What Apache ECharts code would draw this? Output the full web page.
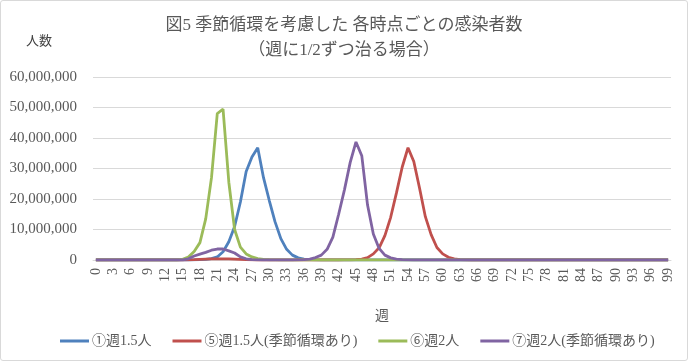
<!DOCTYPE html>
<html>
<head>
<meta charset="utf-8">
<script src="https://cdn.jsdelivr.net/npm/echarts@6/dist/echarts.min.js"></script>
<style>
html,body{margin:0;padding:0;background:#fff;}
#wrap{width:688px;height:361px;box-sizing:border-box;border:1px solid #d9d9d9;border-radius:3px;position:relative;overflow:hidden;}
#chart{position:absolute;left:-1px;top:-1px;width:688px;height:361px;}
</style>
</head>
<body>
<div id="wrap"><div id="chart"></div></div>
<script>
// categories: weeks 0..99
const weeks = [];
for (let w = 0; w <= 99; w++) weeks.push(String(w));

const titleText = "図5 季節循環を考慮した 各時点ごとの感染者数\n（週に1/2ずつ治る場合）";
const yUnitLabel = "人数";
const xName = "週";
const seriesNames = ["①週1.5人", "⑤週1.5人(季節循環あり)", "⑥週2人", "⑦週2人(季節循環あり)"];

// ①週1.5人
const s1 = [
0,0,0,0,0,0,0,0,0,0,
0,0,0,0,0,0,0,50000,100000,200000,
450000,1000000,2700000,6000000,11000000,19000000,29000000,33800000,36800000,27000000,
19500000,12500000,7000000,3500000,1600000,700000,300000,100000,40000,0,
0,0,0,0,0,0,0,0,0,0,
0,0,0,0,0,0,0,0,0,0,
0,0,0,0,0,0,0,0,0,0,
0,0,0,0,0,0,0,0,0,0,
0,0,0,0,0,0,0,0,0,0,
0,0,0,0,0,0,0,0,0,0
];
// ⑤週1.5人(季節循環あり)
const s5 = [
0,0,0,0,0,0,0,0,0,0,
0,0,0,0,0,0,50000,100000,200000,300000,
350000,400000,400000,350000,300000,200000,100000,50000,0,0,
0,0,0,0,0,0,0,0,0,0,
0,0,0,20000,50000,100000,300000,800000,2000000,4000000,
8000000,14000000,22000000,30500000,36800000,32300000,23500000,14200000,8300000,4100000,
2000000,900000,400000,150000,50000,0,0,0,0,0,
0,0,0,0,0,0,0,0,0,0,
0,0,0,0,0,0,0,0,0,0,
0,0,0,0,0,0,0,0,0,0
];
// ⑥週2人
const s6 = [
0,0,0,0,0,0,0,0,0,0,
0,0,0,0,0,200000,1000000,2800000,5700000,13500000,
27000000,48000000,49500000,25500000,10000000,4200000,2000000,1000000,450000,200000,
80000,30000,0,0,0,0,0,0,0,0,
0,0,0,0,0,0,0,0,0,0,
0,0,0,0,0,0,0,0,0,0,
0,0,0,0,0,0,0,0,0,0,
0,0,0,0,0,0,0,0,0,0,
0,0,0,0,0,0,0,0,0,0,
0,0,0,0,0,0,0,0,0,0
];
// ⑦週2人(季節循環あり)
const s7 = [
0,0,0,0,0,0,0,0,0,0,
0,0,0,0,0,50000,400000,1300000,1900000,2500000,
3200000,3600000,3600000,3000000,2300000,1000000,400000,150000,50000,0,
0,0,0,0,0,30000,100000,300000,800000,1600000,
3500000,7500000,15000000,23000000,32000000,38700000,34200000,18000000,8500000,3800000,
1600000,700000,300000,100000,30000,0,0,0,0,0,
0,0,0,0,0,0,0,0,0,0,
0,0,0,0,0,0,0,0,0,0,
0,0,0,0,0,0,0,0,0,0,
0,0,0,0,0,0,0,0,0,0
];

const colors = ["#4F81BD", "#C0504D", "#9BBB59", "#8064A2"];
const serif = "'Liberation Serif','DejaVu Serif','Noto Sans CJK JP',serif";
const txt = "#595959";

const chart = echarts.init(document.getElementById('chart'), null, {renderer: 'canvas'});
const datas = [s1, s5, s6, s7];
chart.setOption({
  animation: false,
  color: colors,
  title: {
    text: titleText,
    left: 'center',
    top: 8,
    textStyle: {fontFamily: serif, fontSize: 17, fontWeight: 'normal', color: txt, lineHeight: 25}
  },
  graphic: [{
    type: 'text', left: 26, top: 35,
    style: {text: yUnitLabel, font: "13px " + serif, fill: '#404040'}
  }],
  legend: {
    left: 55, top: 329,
    icon: 'rect', itemWidth: 29, itemHeight: 3, itemGap: 21,
    textStyle: {fontFamily: serif, fontSize: 14, color: txt, padding: [0, 0, 0, -2]},
    data: seriesNames
  },
  grid: {left: 93, right: 17, top: 77, bottom: 101, containLabel: false},
  xAxis: {
    type: 'category',
    data: weeks,
    boundaryGap: true,
    name: xName,
    nameLocation: 'middle',
    nameGap: 49,
    nameTextStyle: {fontFamily: serif, fontSize: 14, color: txt},
    axisLine: {lineStyle: {color: '#d9d9d9'}},
    axisTick: {show: false},
    axisLabel: {interval: 2, rotate: 90, fontFamily: serif, fontSize: 14, color: txt, margin: 8}
  },
  yAxis: {
    type: 'value',
    min: 0, max: 60000000, interval: 10000000,
    axisLine: {show: false},
    axisTick: {show: false},
    splitLine: {lineStyle: {color: '#d9d9d9', width: 1}},
    axisLabel: {
      fontFamily: serif, fontSize: 15, color: txt, margin: 16,
      formatter: v => v.toLocaleString('en-US')
    }
  },
  series: seriesNames.map((n, i) => ({
    name: n,
    type: 'line',
    data: datas[i],
    symbol: 'none',
    lineStyle: {width: 2.8, color: colors[i]},
    itemStyle: {color: colors[i]}
  }))
});
</script>
</body>
</html>
